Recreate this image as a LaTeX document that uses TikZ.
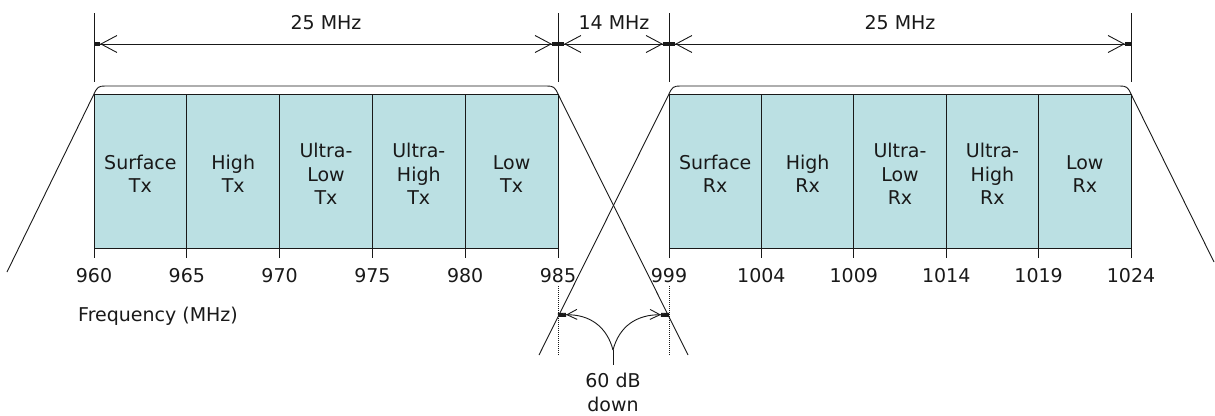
\documentclass[tikz,border=0pt]{standalone}
\usepackage{fontspec}
\setmainfont{DejaVu Sans}
\usetikzlibrary{arrows.meta}
\definecolor{band}{RGB}{187,224,227}
\definecolor{ink}{RGB}{25,25,25}
\begin{document}
\begin{tikzpicture}[x=1pt,y=-1pt,
  ln/.style={line width=0.9pt, draw=ink},
  lbl/.style={font=\fontsize{19}{23.5}\selectfont, text=ink, align=center, inner sep=0pt},
  dimarrow/.style={{Rectangle[length=6pt,width=4pt]Straight Barb[length=16pt,width=17pt,line width=0.9pt]}-{Straight Barb[length=16pt,width=17pt,line width=0.9pt]Rectangle[length=6pt,width=4pt]}},
  dbarrow/.style={-{Straight Barb[length=10pt,width=10pt,line width=0.9pt]Rectangle[length=8pt,width=4pt]}},
  dotln/.style={line width=0.8pt, draw=ink, dash pattern=on 1pt off 1pt}]
\useasboundingbox (0,0) rectangle (1215,415);

% --- coordinates
\coordinate (L0) at (94,94);   \coordinate (L5) at (558,94);
\coordinate (R0) at (669,94);  \coordinate (R5) at (1131,94);

% --- bands
\fill[band] (94,94) rectangle (558,248);
\fill[band] (669,94) rectangle (1131,248);
\draw[ln] (94,94) -- (558,94);
\draw[ln] (94,248) -- (558,248);
\draw[ln] (669,94) -- (1131,94);
\draw[ln] (669,248) -- (1131,248);
\foreach \i in {0,...,5} {
  \draw[ln] ({94+\i*92.8},94) -- ({94+\i*92.8},258);
  \draw[ln] ({669+\i*92.4},94) -- ({669+\i*92.4},258);
}

% --- rounded tops
\draw[ln] (94,94) .. controls (97,87) and (99,86) .. (105,86) -- (547,86) .. controls (553,86) and (555,87) .. (558,94);
\draw[ln] (669,94) .. controls (672,87) and (674,86) .. (680,86) -- (1120,86) .. controls (1126,86) and (1128,87) .. (1131,94);

% --- filter skirts
\coordinate (Lfoot) at (7,272);
\coordinate (Rfoot) at (688,355);
\coordinate (Lfoot2) at (539,355);
\coordinate (Rfoot2) at (1214,262);
\draw[ln] (L0) -- (Lfoot);
\draw[ln] (L5) -- (Rfoot);
\draw[ln] (R0) -- (Lfoot2);
\draw[ln] (R5) -- (Rfoot2);

% --- dimension lines
\foreach \x in {94,558,669,1131} { \draw[ln] (\x,13) -- (\x,82); }
\coordinate (d0) at (94,44); \coordinate (d1) at (558,44);
\coordinate (d2) at (669,44); \coordinate (d3) at (1131,44);
\draw[ln, dimarrow] (d0) -- (d1);
\draw[ln, dimarrow] (d1) -- (d2);
\draw[ln, dimarrow] (d2) -- (d3);
\node[lbl, anchor=base] (w1) at (326,29) {25 MHz};
\node[lbl, anchor=base] (w2) at (614,29) {14 MHz};
\node[lbl, anchor=base] (w3) at (900,29) {25 MHz};

% --- cell labels
\node[lbl] (c1) at (140.4,174) {Surface\\Tx};
\node[lbl] (c2) at (233.2,174) {High\\Tx};
\node[lbl] (c3) at (326.0,174) {Ultra-\\Low\\Tx};
\node[lbl] (c4) at (418.8,174) {Ultra-\\High\\Tx};
\node[lbl] (c5) at (511.6,174) {Low\\Tx};
\node[lbl] (r1) at (715.2,174) {Surface\\Rx};
\node[lbl] (r2) at (807.6,174) {High\\Rx};
\node[lbl] (r3) at (900.0,174) {Ultra-\\Low\\Rx};
\node[lbl] (r4) at (992.4,174) {Ultra-\\High\\Rx};
\node[lbl] (r5) at (1084.8,174) {Low\\Rx};

% --- tick labels
\node[lbl, anchor=base] (f1) at (94,282) {960};
\node[lbl, anchor=base] (f2) at (186.8,282) {965};
\node[lbl, anchor=base] (f3) at (279.6,282) {970};
\node[lbl, anchor=base] (f4) at (372.4,282) {975};
\node[lbl, anchor=base] (f5) at (465.2,282) {980};
\node[lbl, anchor=base] (f6) at (558,282) {985};
\node[lbl, anchor=base] (g1) at (669,282) {999};
\node[lbl, anchor=base] (g2) at (761.4,282) {1004};
\node[lbl, anchor=base] (g3) at (853.8,282) {1009};
\node[lbl, anchor=base] (g4) at (946.2,282) {1014};
\node[lbl, anchor=base] (g5) at (1038.6,282) {1019};
\node[lbl, anchor=base] (g6) at (1131,282) {1024};
\node[lbl, anchor=base west] (fq) at (78,321) {Frequency (MHz)};

% --- 60 dB down
\draw[dotln] (558,286) -- (558,355);
\draw[dotln] (669,286) -- (669,355);
\coordinate (p1) at (558,315);
\coordinate (p2) at (669,315);
\coordinate (yj) at (613,350);
\coordinate (ys) at (613,365);
\draw[ln, dbarrow] (yj) .. controls (607,327) and (590,314) .. (p1);
\draw[ln, dbarrow] (yj) .. controls (619,327) and (636,314) .. (p2);
\draw[ln] (yj) -- (ys);
\node[lbl, anchor=base] (db) at (613,387) {60 dB};
\node[lbl, anchor=base] (dn) at (613,411) {down};
\end{tikzpicture}
\end{document}
